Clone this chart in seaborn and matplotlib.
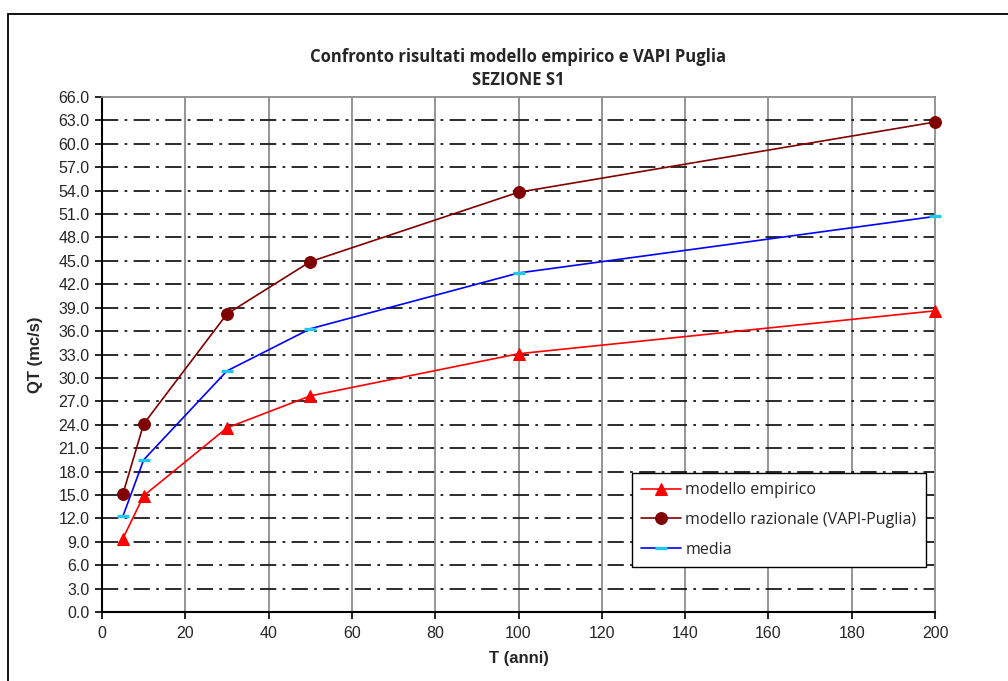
import numpy as np
import pandas as pd
import seaborn as sns
import matplotlib.pyplot as plt
from matplotlib.patches import Rectangle

# Return periods (anni) and discharge values
T_anni = [5, 10, 30, 50, 100, 200]
q_empirico = [9.4, 14.9, 23.6, 27.7, 33.1, 38.6]
q_razionale = [15.1, 24.1, 38.2, 44.9, 53.8, 62.8]
q_media = [12.25, 19.5, 30.9, 36.3, 43.45, 50.7]

x_ticks = list(range(0, 201, 20))
y_ticks = np.arange(0, 66.1, 3.0)

sns.set_theme(style="white")
plt.rcParams['font.family'] = ['Liberation Sans', 'DejaVu Sans']

fig = plt.figure(figsize=(10.08, 6.81), dpi=100)
ax = fig.add_axes([0.1012, 0.1013, 0.8264, 0.7562])

# outer chart frame (partly cut off in the original)
fig.patches.append(Rectangle((0.008, -0.1), 1.2, 1.0794, transform=fig.transFigure,
                             fill=False, edgecolor='black', linewidth=1.3, zorder=0))

df = pd.DataFrame({"T": T_anni, "emp": q_empirico, "raz": q_razionale, "media": q_media})

sns.lineplot(data=df, x="T", y="emp", ax=ax, color="#ff0000", marker="^", markersize=8.5,
             markeredgecolor="#ff0000", linewidth=1.2, label="modello empirico", zorder=5,
             clip_on=False)
sns.lineplot(data=df, x="T", y="raz", ax=ax, color="#800000", marker="o", markersize=8.5,
             markeredgecolor="#800000", linewidth=1.2, label="modello razionale (VAPI-Puglia)",
             zorder=5, clip_on=False)
sns.lineplot(data=df, x="T", y="media", ax=ax, color="#0000ff", marker="_", markersize=8,
             markeredgecolor="#1ec8f0", markeredgewidth=2.4, linewidth=1.2, label="media",
             zorder=5, clip_on=False)

ax.set_xlim(0, 200)
ax.set_ylim(0, 66)
ax.set_xticks(x_ticks)
ax.set_yticks(y_ticks)
ax.set_yticklabels([f"{v:.1f}" for v in y_ticks])

# grid: grey vertical, black dash-dot horizontal
for xv in x_ticks[1:-1]:
    ax.axvline(xv, color="#8c8c8c", linewidth=1.3, zorder=1)
for yv in y_ticks[1:-1]:
    ax.axhline(yv, color="#1a1a1a", linewidth=1.3, linestyle=(0, (9, 3.5, 1.5, 3.5)), zorder=2)

for side in ["left", "bottom"]:
    ax.spines[side].set_color("black")
    ax.spines[side].set_linewidth(1.5)
for side in ["top", "right"]:
    ax.spines[side].set_color("#8c8c8c")
    ax.spines[side].set_linewidth(1.3)

ax.tick_params(axis="both", direction="out", length=5, width=1.2, color="black",
               labelsize=11.5, bottom=True, left=True)
ax.tick_params(axis="x", pad=5)
ax.tick_params(axis="y", pad=4)

ax.set_xlabel("T (anni)", fontsize=12, fontweight="bold", labelpad=7)
ax.set_ylabel("QT (mc/s)", fontsize=12, fontweight="bold", labelpad=11)

ax.set_title("Confronto risultati modello empirico e VAPI Puglia\nSEZIONE S1",
             fontsize=12, fontweight="bold", family=["Open Sans", "DejaVu Sans"],
             linespacing=1.35, pad=9)

leg = ax.legend(loc="lower right", bbox_to_anchor=(0.989, 0.087), frameon=True,
                fancybox=False, edgecolor="black", framealpha=1, borderpad=0.6,
                labelspacing=0.85, handlelength=2.5, handletextpad=0.25, borderaxespad=0,
                prop={"family": ["Open Sans", "DejaVu Sans"], "size": 11.5})
leg.get_frame().set_linewidth(1.0)
leg.set_zorder(10)

fig.savefig("out.png", dpi=100)
